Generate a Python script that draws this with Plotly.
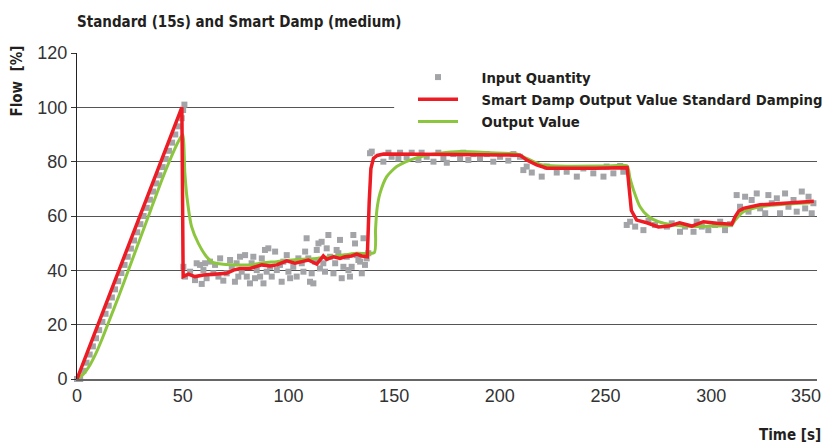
import plotly.graph_objects as go

# ---------------- data ----------------
x_ticks = [0, 50, 100, 150, 200, 250, 300, 350]
y_ticks = [0, 20, 40, 60, 80, 100, 120]

# Input Quantity (grey squares)
t_input = [0, 1.5, 3, 4.5, 6, 7.5, 9, 10.5, 12, 13.5, 15, 16.5, 18, 19.5, 21, 22.5, 24, 25.5, 27, 28.5,
           30, 31.5, 33, 34.5, 36, 37.5, 39, 40.5, 42, 43.5, 45, 46.5, 48, 49.5, 50.2, 50.8,
           50.3, 51.1, 53.5, 55.8, 56.6, 58.2, 59.0, 59.8, 60.6, 61.3, 62.9, 64.5, 65.3, 66.9, 67.7, 69.2,
           70.8, 72.4, 73.2, 74.7, 75.5, 76.3, 77.1, 77.9, 79.5, 80.3, 81.8, 82.6, 83.4, 84.2, 85.0, 86.6,
           87.4, 88.2, 88.9, 89.7, 90.5, 91.3, 92.1, 93.7, 94.5, 96.0, 96.8, 97.6, 99.2, 100.0, 100.8,
           102.3, 103.9, 104.7, 106.3, 107.1, 107.9, 108.6, 109.4, 110.2, 111.0, 111.8, 112.6, 113.4,
           114.2, 114.9, 115.7, 116.5, 117.3, 118.1, 118.9, 119.7, 121.3, 122.1, 122.8, 123.6, 124.4,
           125.2, 126.0, 127.6, 128.4, 129.1, 129.9, 130.7, 131.5, 132.3, 133.1, 133.9, 134.7, 135.5,
           136.2, 137.0, 137.8,
           138.6, 139.4, 144.9, 147.3, 148.8, 152.0, 152.8, 155.9, 158.3, 161.5, 163.0, 165.4, 168.6,
           170.9, 173.3, 174.9, 178.0, 181.2, 182.7, 185.1, 187.5, 190.6, 193.8, 196.9, 200.1, 204.0,
           206.4, 209.5,
           211.1, 212.7, 215.1, 219.8, 222.2, 226.9, 231.6, 236.4, 239.5, 244.2, 249.0, 250.5, 253.7,
           256.9, 258.4,
           260.0, 261.6, 264.0, 267.9, 270.3, 273.4, 279.0, 281.3, 285.2, 287.6, 291.6, 293.1, 295.5,
           298.6, 301.8, 304.2, 306.5, 308.9,
           312.0, 313.6, 316.0, 317.6, 319.1, 321.5, 323.1, 325.5, 327.0, 328.6, 331.0, 332.5, 334.9,
           336.5, 338.9, 340.4, 342.8, 344.4, 346.0, 347.5, 348.3]
v_input = [0, 0, 3, 6, 9, 12, 15, 18, 21, 24, 27, 30, 33, 36, 39, 42, 45, 48, 51, 54,
           57, 60, 63, 66, 69, 72, 75, 78, 81, 84, 87, 90, 93, 96, 99, 101,
           41.3, 37.7, 39.5, 36.4, 42.6, 42.0, 35.0, 40.1, 42.6, 37.1, 43.2, 38.9, 42.0, 37.7, 44.4, 36.2,
           38.9, 43.8, 41.3, 35.8, 42.6, 37.7, 45.0, 39.5, 45.6, 37.7, 35.2, 42.6, 45.0, 37.1, 40.1, 37.7,
           44.4, 35.2, 47.5, 39.5, 48.1, 41.3, 37.7, 46.9, 40.1, 42.0, 35.8, 43.2, 45.6, 39.5, 37.1,
           41.3, 37.7, 44.4, 42.6, 39.5, 46.9, 51.8, 44.4, 35.8, 38.9, 35.2, 43.2, 47.5,
           49.9, 40.7, 50.5, 42.6, 39.5, 48.1, 53.0, 45.0, 38.9, 42.6, 47.5, 46.3, 51.2,
           37.1, 41.3, 45.0, 40.1, 37.7, 41.3, 53.0, 49.9, 45.6, 43.8, 43.2, 38.9, 51.8,
           42.0, 44.4, 46.3,
           83.1, 83.7, 80.0, 83.3, 81.8, 81.2, 83.3, 81.6, 83.3, 80.6, 83.3, 81.8, 80.0,
           83.3, 81.2, 79.6, 82.8, 81.2, 83.3, 80.6, 82.8, 81.2, 82.8, 80.0, 81.8, 80.4,
           82.8, 81.8,
           76.9, 78.2, 76.0, 74.5, 78.2, 76.0, 76.3, 74.5, 77.5, 75.7, 74.5, 78.2, 75.7,
           78.4, 76.3,
           56.7, 57.9, 56.1, 54.8, 58.3, 56.7, 56.1, 57.3, 54.2, 56.1, 54.2, 57.9, 56.1,
           54.8, 56.7, 57.9, 54.8, 57.0,
           67.7, 63.4, 67.1, 61.6, 65.9, 68.3, 62.8, 61.0, 67.7, 64.7, 66.5, 61.0, 68.3,
           63.4, 65.9, 61.6, 69.0, 62.8, 67.1, 61.0, 64.7]

# Smart Damp Output Value Standard Damping (red)
t_smart = [0, 49.6, 50.2, 52.7, 55.8, 59.8, 64.5, 70.8, 74.0, 77.1, 81.8, 87.4, 91.3, 94.5, 99.2,
           103.1, 106.3, 109.4, 113.4, 116.5, 118.1, 121.3, 124.4, 126.8, 129.9, 132.3, 134.7, 137.3,
           138.2, 139.0, 140.2, 142.0, 145.0, 160.0, 180.0, 200.0, 209.5, 212.7, 217.4, 222.2, 231.6,
           245.0, 260.2, 261.0, 262.2, 264.7, 269.5, 275.0, 280.0, 285.0, 290.8, 296.3, 302.6, 309.7,
           311.3, 313.0, 315.2, 323.0, 335.7, 346.7, 348.5]
v_smart = [0, 100, 37.7, 38.6, 37.7, 38.3, 38.6, 38.9, 40.1, 40.7, 40.7, 42.0, 41.6, 42.0, 43.5,
           42.6, 43.2, 43.8, 42.3, 45.3, 44.0, 45.0, 44.4, 45.0, 45.3, 46.0, 45.3, 45.0,
           65.0, 77.5, 81.2, 82.3, 82.8, 82.6, 82.6, 82.5, 82.4, 80.6, 78.8, 77.6, 77.5,
           77.6, 77.8, 72.0, 62.0, 58.5, 57.5, 56.0, 56.3, 57.5, 56.3, 57.9, 57.3, 57.0,
           59.8, 61.8, 62.8, 64.1, 64.7, 65.3, 65.4]

# Output Value (green)
t_output = [0, 3, 6, 9, 12, 15, 20, 25, 30, 35, 40, 45, 48, 50, 51, 52, 54.2, 57.4, 61.3, 64.5,
            69.2, 75.5, 81.8, 88.2, 94.5, 103.9, 113.4, 122.8, 132.3, 140.6, 141.2, 141.8, 143.3,
            146.5, 151.2, 157.5, 163.8, 171.7, 181.2, 195.4, 208.0, 212.7, 219.0, 226.9, 250.5,
            260.2, 261.5, 263.2, 266.3, 270.3, 275.0, 282.1, 291.6, 299.4, 309.7, 311.3, 315.2,
            323.0, 335.7, 347.0]
v_output = [0, 1.8, 5, 9.5, 15, 21, 31, 41.5, 52, 62.5, 73, 82.5, 87.5, 90, 76, 67, 56.1, 49.9, 45.0, 42.8,
            42.2, 42.0, 42.0, 42.8, 43.2, 44.0, 44.4, 45.3, 46.3, 46.5, 55.0, 62.0, 68.3,
            74.5, 78.2, 80.6, 82.1, 83.1, 83.7, 83.3, 82.8, 81.2, 79.0, 78.4, 78.4,
            78.4, 74.0, 69.6, 63.4, 59.8, 57.9, 56.7, 56.1, 56.3, 56.7, 58.5, 61.6,
            63.4, 64.4, 64.9]

names = ["Input Quantity", "Smart Damp Output Value Standard Damping", "Output Value"]

# ---------------- styling ----------------
COND = "DejaVu Sans Condensed, Liberation Sans, sans-serif"
REG = "Liberation Sans, Arial, sans-serif"
PAD = "\u00a0\u00a0\u00a0\u00a0"
W, H = 827, 443

fig = go.Figure()
fig.add_trace(go.Scatter(
    x=t_input, y=v_input, mode="markers", name=PAD + names[0],
    marker=dict(symbol="square", size=6, color="#a3a4a7"),
    cliponaxis=False, legendrank=1))
fig.add_trace(go.Scatter(
    x=t_output, y=v_output, mode="lines", name=PAD + names[2],
    line=dict(color="#8cc63e", width=3, shape="spline", smoothing=0.6), legendrank=3))
fig.add_trace(go.Scatter(
    x=t_smart, y=v_smart, mode="lines", name=PAD + names[1],
    line=dict(color="#ed1c24", width=3.5), legendrank=2))

# the last x tick label sits slightly left of its tick so it stays inside the figure
x_tick_text = [str(v) for v in x_ticks[:-1]] + [""]

fig.update_layout(
    width=W, height=H,
    margin=dict(l=77, r=10, t=53, b=64, autoexpand=False),
    paper_bgcolor="white", plot_bgcolor="white",
    showlegend=True,
    legend=dict(xref="container", yref="container", x=413 / W, y=1 - 61 / H,
                xanchor="left", yanchor="top",
                bgcolor="white", borderwidth=0,
                font=dict(family=COND, size=14.75, color="#231f20", weight="bold"),
                itemwidth=40, tracegroupgap=0),
    xaxis=dict(range=[0, 350], tickvals=x_ticks, ticktext=x_tick_text,
               showgrid=False, zeroline=False,
               showline=True, linecolor="#666", linewidth=1.5, ticks="",
               tickfont=dict(family=REG, size=18, color="#333")),
    yaxis=dict(range=[0, 120], tickvals=y_ticks, showgrid=True, gridcolor="#555", gridwidth=1,
               zeroline=False, showline=True, linecolor="#222", linewidth=1,
               ticks="outside", ticklen=5, tickcolor="#333",
               tickfont=dict(family=REG, size=18, color="#333")),
    shapes=[dict(type="rect", xref="x", yref="y", x0=150, x1=165, y0=98.5, y1=101.5,
                 fillcolor="white", line=dict(width=0), layer="between")],
    annotations=[
        dict(text=str(x_ticks[-1]), xref="paper", yref="paper",
             x=(823 - 77) / 740, y=(379 - 396) / 326, xanchor="right", yanchor="middle",
             showarrow=False, font=dict(family=REG, size=18, color="#333")),
        dict(text="Standard (15s) and Smart Damp (medium)", xref="paper", yref="paper",
             x=-0.003, y=(379 - 22) / 326, xanchor="left", yanchor="middle", showarrow=False,
             font=dict(family=COND, size=15, color="#231f20", weight="bold")),
        dict(text="Flow  [%]", xref="paper", yref="paper", textangle=-90,
             x=(17 - 77) / 740, y=(379 - 44) / 326, xanchor="center", yanchor="top", showarrow=False,
             font=dict(family=COND, size=15, color="#231f20", weight="bold")),
        dict(text="Time [s]", xref="paper", yref="paper",
             x=(823 - 77) / 740, y=(379 - 435) / 326, xanchor="right", yanchor="middle", showarrow=False,
             font=dict(family=COND, size=15, color="#231f20", weight="bold")),
    ],
)

fig.write_html("out.html", config={"displayModeBar": False},
               post_script="document.body.style.margin='0';document.body.style.overflow='hidden';")
